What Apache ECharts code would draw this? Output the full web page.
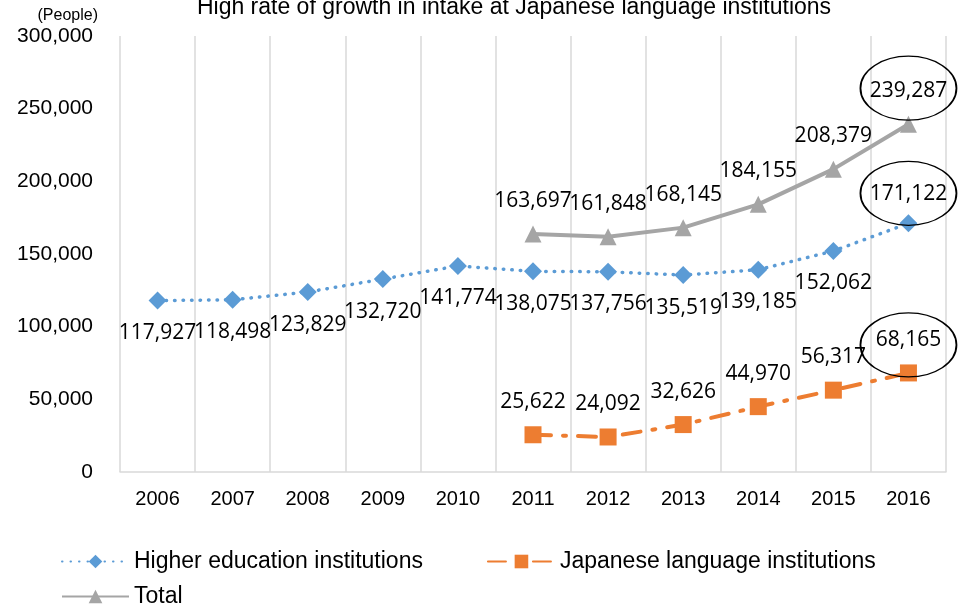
<!DOCTYPE html>
<html>
<head>
<meta charset="utf-8">
<script src="https://cdn.jsdelivr.net/npm/echarts@6/dist/echarts.min.js"></script>
<style>
  html, body { margin: 0; padding: 0; background: #fff; }
  #chart { width: 961px; height: 605px; }
</style>
</head>
<body>
<div id="chart"></div>
<script>
const years = ['2006', '2007', '2008', '2009', '2010', '2011', '2012', '2013', '2014', '2015', '2016'];
const higherEd = [117927, 118498, 123829, 132720, 141774, 138075, 137756, 135519, 139185, 152062, 171122];
const japaneseLang = [null, null, null, null, null, 25622, 24092, 32626, 44970, 56317, 68165];
const total = [null, null, null, null, null, 163697, 161848, 168145, 184155, 208379, 239287];

const fmt = v => Number(v).toLocaleString('en-US');
const labelFont = { fontFamily: 'Open Sans', fontSize: 21, color: '#000' };
const legendText = { fontFamily: 'Liberation Sans', fontSize: 23, color: '#000' };

// ellipse drawn round the last value of a series
const ring = (value, offsetY) => ({
  symbol: 'circle',
  symbolSize: [96, 64],
  symbolOffset: [0, offsetY],
  silent: true,
  label: { show: false },
  itemStyle: { color: 'rgba(0,0,0,0)', borderColor: '#000', borderWidth: 1.5 },
  data: [{ coord: ['2016', value] }]
});

// the last higher-education label sits above its point
const higherEdData = higherEd.map((v, i) =>
  i === higherEd.length - 1 ? { value: v, label: { position: 'top', distance: 10, offset: [0, 0] } } : v
);

const chart = echarts.init(document.getElementById('chart'));
chart.setOption({
  animation: false,
  title: {
    text: 'High rate of growth in intake at Japanese language institutions',
    left: 509,
    textAlign: 'center',
    top: -9,
    textStyle: { fontFamily: 'Liberation Sans', fontSize: 23, fontWeight: 'normal', color: '#000' }
  },
  legend: [
    {
      data: ['Higher education institutions', 'Japanese language institutions'],
      left: 56,
      top: 545,
      itemWidth: 67,
      itemHeight: 17,
      itemGap: 64,
      textStyle: legendText
    },
    {
      data: ['Total'],
      left: 56,
      top: 580,
      itemWidth: 67,
      itemHeight: 17,
      textStyle: legendText
    }
  ],
  grid: { left: 120, right: 15, top: 36, bottom: 133 },
  xAxis: {
    type: 'category',
    data: years,
    boundaryGap: true,
    axisLine: { lineStyle: { color: '#D9D9D9', width: 1.5 } },
    axisTick: { show: false },
    splitLine: { show: true, lineStyle: { color: '#D9D9D9', width: 1.5 } },
    axisLabel: { fontFamily: 'Liberation Sans', fontSize: 20, color: '#000', margin: 17 }
  },
  yAxis: {
    type: 'value',
    min: 0,
    max: 300000,
    interval: 50000,
    name: '(People)',
    nameLocation: 'end',
    nameGap: 12,
    nameTextStyle: { fontFamily: 'Liberation Sans', fontSize: 16, color: '#000', align: 'right', padding: [0, 22, 0, 0] },
    axisLine: { show: false },
    axisTick: { show: false },
    splitLine: { show: false },
    axisLabel: { fontFamily: 'Liberation Sans', fontSize: 21, color: '#000', margin: 27, formatter: v => fmt(v) }
  },
  series: [
    {
      name: 'Higher education institutions',
      type: 'line',
      data: higherEdData,
      symbol: 'diamond',
      symbolSize: 18,
      itemStyle: { color: '#5B9BD5' },
      lineStyle: { color: '#5B9BD5', width: 3.5, type: [0.5, 8], cap: 'round' },
      label: {
        show: true,
        position: 'bottom',
        distance: 13,
        offset: [8, 0],
        ...labelFont,
        formatter: p => fmt(p.value)
      },
      labelLayout: { hideOverlap: false },
      markPoint: ring(171122, -30),
      z: 3
    },
    {
      name: 'Japanese language institutions',
      type: 'line',
      data: japaneseLang,
      symbol: 'rect',
      symbolSize: 17,
      itemStyle: { color: '#ED7D31' },
      lineStyle: { color: '#ED7D31', width: 4, type: [18, 12, 3, 12], cap: 'round' },
      label: {
        show: true,
        position: 'top',
        distance: 14,
        ...labelFont,
        formatter: p => fmt(p.value)
      },
      markPoint: ring(68165, -28),
      z: 3
    },
    {
      name: 'Total',
      type: 'line',
      data: total,
      symbol: 'triangle',
      symbolSize: 17,
      itemStyle: { color: '#A5A5A5' },
      lineStyle: { color: '#A5A5A5', width: 4 },
      label: {
        show: true,
        position: 'top',
        distance: 14,
        ...labelFont,
        formatter: p => fmt(p.value)
      },
      markPoint: ring(239287, -36),
      z: 3
    }
  ]
});
</script>
</body>
</html>
